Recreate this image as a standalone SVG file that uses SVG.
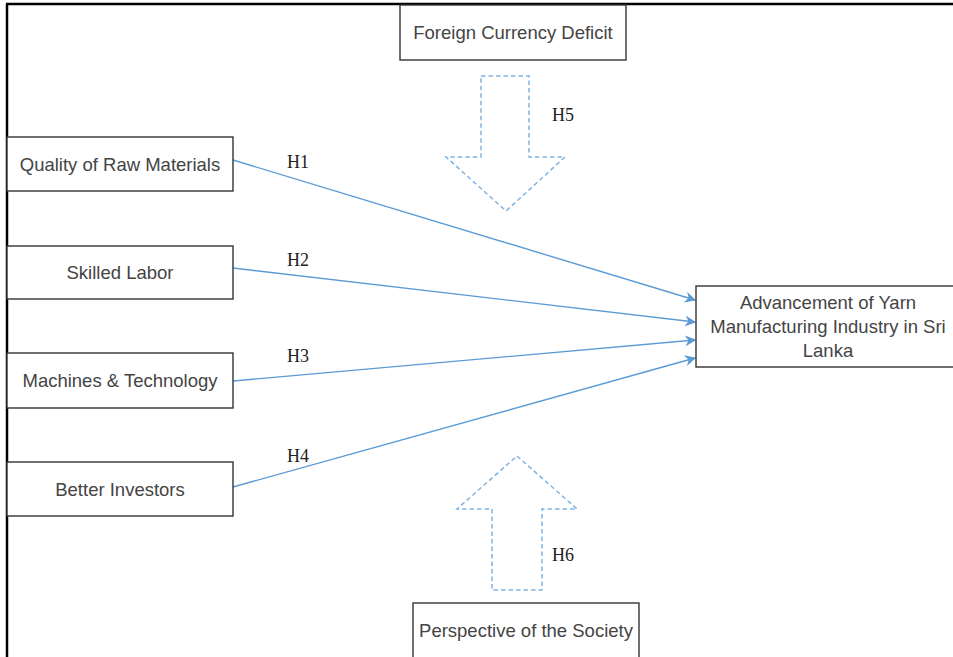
<svg xmlns="http://www.w3.org/2000/svg" width="953" height="657" viewBox="0 0 953 657">
<defs>
<style>
.box{fill:#fff;stroke:#333;stroke-width:1.4}
.lbl{font-family:"Liberation Sans",Arial,sans-serif;font-size:18.5px;fill:#444;text-anchor:middle;dominant-baseline:central}
.h{font-family:"Liberation Serif","Times New Roman",serif;font-size:18px;fill:#222;dominant-baseline:central}
.conn{stroke:#5b9bd5;stroke-width:1.4;fill:none}
.bigarrow{fill:none;stroke:#7fb3e3;stroke-width:1.5;stroke-dasharray:4.5 3}
</style>
<marker id="ah" viewBox="0 0 10 10" refX="9" refY="5" markerWidth="11" markerHeight="11" markerUnits="userSpaceOnUse" orient="auto">
<path d="M0,0 L10,5 L0,10 L3,5 Z" fill="#5b9bd5"/>
</marker>
</defs>
<rect x="0" y="0" width="953" height="657" fill="#fff"/>
<g id="frame">
<line x1="6" y1="4" x2="953" y2="4" stroke="#000" stroke-width="2.5"/>
<line x1="7" y1="4" x2="7" y2="657" stroke="#000" stroke-width="2.5"/>
</g>
<g id="connectors">
<line class="conn" x1="233" y1="160" x2="695" y2="300" marker-end="url(#ah)"/>
<line class="conn" x1="233" y1="268" x2="695" y2="322" marker-end="url(#ah)"/>
<line class="conn" x1="233" y1="381" x2="695" y2="340" marker-end="url(#ah)"/>
<line class="conn" x1="233" y1="487" x2="695" y2="358" marker-end="url(#ah)"/>
<text class="h" x="287" y="162">H1</text>
<text class="h" x="287" y="260">H2</text>
<text class="h" x="287" y="356">H3</text>
<text class="h" x="287" y="456">H4</text>
</g>
<g id="h5-arrow">
<path class="bigarrow" d="M481,76 L529,76 L529,157 L565,157 L506,211 L446,157 L481,157 Z"/>
<text class="h" x="552" y="115">H5</text>
</g>
<g id="h6-arrow">
<path class="bigarrow" d="M517,456 L577,509 L542,509 L542,590 L492,590 L492,509 L457,509 Z"/>
<text class="h" x="552" y="555">H6</text>
</g>
<g id="foreign-currency">
<rect class="box" x="400" y="5" width="226" height="55"/>
<text class="lbl" x="513" y="32">Foreign Currency Deficit</text>
</g>
<g id="raw-materials">
<rect class="box" x="7" y="137" width="226" height="54"/>
<text class="lbl" x="120" y="164">Quality of Raw Materials</text>
</g>
<g id="skilled-labor">
<rect class="box" x="7" y="246" width="226" height="53"/>
<text class="lbl" x="120" y="272">Skilled Labor</text>
</g>
<g id="machines">
<rect class="box" x="7" y="353" width="226" height="55"/>
<text class="lbl" x="120" y="380">Machines &amp; Technology</text>
</g>
<g id="investors">
<rect class="box" x="7" y="462" width="226" height="54"/>
<text class="lbl" x="120" y="489">Better Investors</text>
</g>
<g id="advancement">
<rect class="box" x="696" y="286" width="262" height="81"/>
<text class="lbl" x="828" y="302">Advancement of Yarn</text>
<text class="lbl" x="828" y="326">Manufacturing Industry in Sri</text>
<text class="lbl" x="828" y="350">Lanka</text>
</g>
<g id="perspective">
<rect class="box" x="413" y="603" width="226" height="70"/>
<text class="lbl" x="526" y="630">Perspective of the Society</text>
</g>
</svg>
